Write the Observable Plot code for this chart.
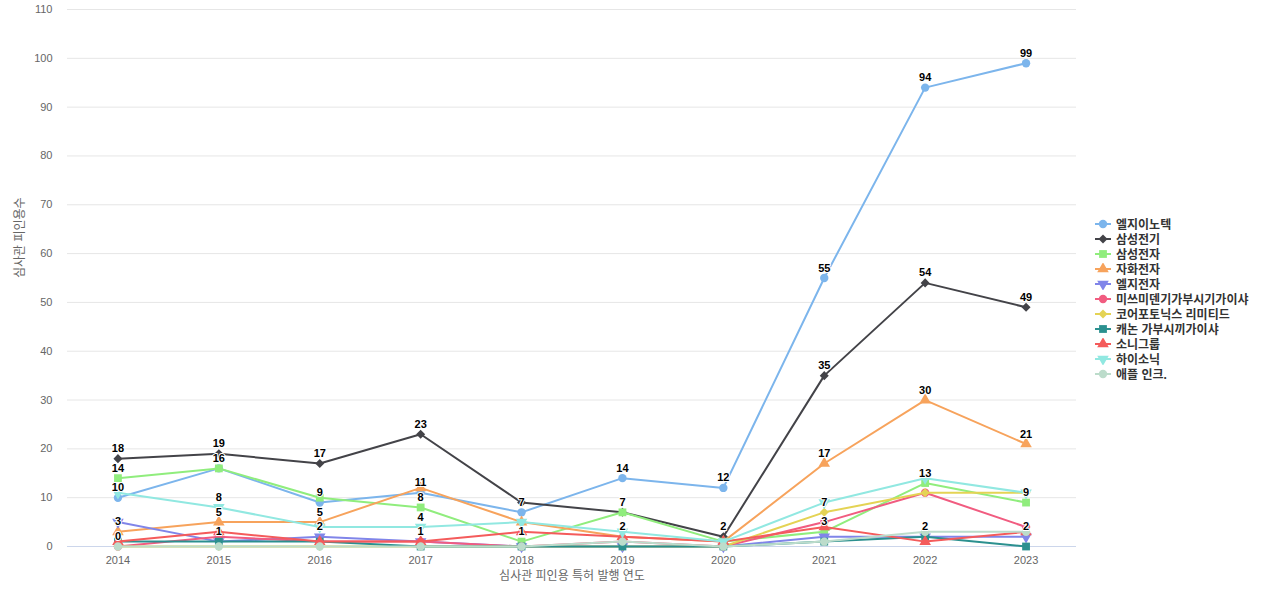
<!DOCTYPE html>
<html><head><meta charset="utf-8">
<script src="https://cdn.jsdelivr.net/npm/d3@7"></script>
<script src="https://cdn.jsdelivr.net/npm/@observablehq/plot@0.6"></script>
<style>
body{margin:0;background:#fff;font-family:"Liberation Sans","Noto Sans CJK KR",sans-serif;}
#wrap{position:relative;width:1280px;height:600px;overflow:hidden;}
#legend{position:absolute;left:1095px;top:216px;font-size:12px;font-weight:bold;color:#333;}
.item{display:flex;align-items:center;height:15px;white-space:nowrap;}
.item svg{margin-right:5px;}
</style></head><body><div id="wrap"><div id="legend"></div></div>
<script>
// ---- data ----
const years = [2014, 2015, 2016, 2017, 2018, 2019, 2020, 2021, 2022, 2023];
const seriesNames = ["엘지이노텍", "삼성전기", "삼성전자", "자화전자", "엘지전자", "미쓰미덴기가부시기가이샤", "코어포토닉스 리미티드", "캐논 가부시끼가이샤", "소니그룹", "하이소닉", "애플 인크."];
const lgInnotek   = [10, 16, 9, 11, 7, 14, 12, 55, 94, 99];
const samsungEM   = [18, 19, 17, 23, 9, 7, 2, 35, 54, 49];
const samsungElec = [14, 16, 10, 8, 1, 7, 1, 3, 13, 9];
const jahwa       = [3, 5, 5, 12, 5, 2, 1, 17, 30, 21];
const lgElec      = [5, 1, 2, 1, 0, 0, 0, 2, 2, 2];
const mitsumi     = [0, 2, 1, 1, 0, 1, 0, 5, 11, 4];
const corephotonics = [0, 0, 0, 0, 0, 0, 0, 7, 11, 11];
const canon       = [1, 1, 1, 0, 0, 0, 0, 1, 2, 0];
const sony        = [1, 3, 1, 1, 3, 2, 1, 4, 1, 3];
const hysonic     = [11, 8, 4, 4, 5, 3, 1, 9, 14, 11];
const apple       = [0, 0, 0, 0, 0, 1, 0, 1, 3, 3];
const seriesValues = [lgInnotek, samsungEM, samsungElec, jahwa, lgElec, mitsumi, corephotonics, canon, sony, hysonic, apple];
const yTicks = [0, 10, 20, 30, 40, 50, 60, 70, 80, 90, 100, 110];

// ---- styles ----
const colors = ["#7cb5ec", "#434348", "#90ed7d", "#f7a35c", "#8085e9", "#f15c80", "#e4d354", "#2b908f", "#f45b5b", "#91e8e1", "#bcdccb"];
const triangleDown = {
  draw(ctx, size) {
    const y = -Math.sqrt(size / (Math.sqrt(3) * 3));
    ctx.moveTo(0, -y * 2);
    ctx.lineTo(-Math.sqrt(3) * y, y);
    ctx.lineTo(Math.sqrt(3) * y, y);
    ctx.closePath();
  }
};
const diamond = {
  draw(ctx, size) {
    const h = Math.sqrt(size / 2);
    ctx.moveTo(0, -h);
    ctx.lineTo(h, 0);
    ctx.lineTo(0, h);
    ctx.lineTo(-h, 0);
    ctx.closePath();
  }
};
const symbolCycle = [d3.symbolCircle, diamond, d3.symbolSquare, d3.symbolTriangle, triangleDown];
const symbolSize = [4.2, 3.6, 4.4, 4.3, 4.3];

const rows = [];
seriesNames.forEach((name, i) => {
  seriesValues[i].forEach((v, j) => rows.push({series: name, si: i, year: years[j], value: v}));
});

// data label collision (greedy in series order)
const pxPerUnit = 537 / 110;
const labels = [];
years.forEach(yr => {
  const shown = [];
  rows.filter(r => r.year === yr).sort((a, b) => a.si - b.si).forEach(r => {
    if (shown.every(s => Math.abs(s.value - r.value) * pxPerUnit >= 12)) { shown.push(r); labels.push(r); }
  });
});

const font = '"Liberation Sans","Noto Sans CJK KR",sans-serif';
const marks = [
  Plot.ruleY(yTicks.filter(t => t > 0), {stroke: "#e6e6e6", strokeWidth: 1}),
  Plot.ruleY([0], {stroke: "#ccd6eb", strokeWidth: 1}),
  Plot.axisY({ticks: yTicks, tickSize: 0, tickPadding: 15, fill: "#666", fontSize: 11, label: null}),
  Plot.axisX({tickSize: 0, tickPadding: 10, fill: "#666", fontSize: 11, label: null, tickFormat: d => String(d)}),
  Plot.text(["심사관 피인용 특허 발행 연도"], {frameAnchor: "bottom", dy: 33, fill: "#666", fontSize: 12}),
  Plot.text(["심사관 피인용수"], {frameAnchor: "left", dx: -47, rotate: -90, fill: "#666", fontSize: 12})
];
seriesNames.forEach((name, i) => {
  const data = rows.filter(r => r.si === i);
  marks.push(Plot.line(data, {x: "year", y: "value", stroke: colors[i], strokeWidth: 2}));
  marks.push(Plot.dot(data, {x: "year", y: "value", fill: colors[i], stroke: "none", r: symbolSize[i % 5], symbol: symbolCycle[i % 5]}));
});
marks.push(Plot.text(labels, {x: "year", y: "value", text: d => String(d.value), dy: -10, fontSize: 11, fontWeight: "bold", fill: "#000", stroke: "#fff", strokeWidth: 2}));

const chart = Plot.plot({
  width: 1280, height: 600,
  marginLeft: 67, marginRight: 204, marginTop: 9, marginBottom: 54,
  style: {fontFamily: font, background: "transparent", overflow: "visible"},
  x: {type: "point", domain: years, padding: 0.5, round: false, axis: null},
  y: {domain: [0, 110], axis: null},
  marks
});
document.getElementById("wrap").prepend(chart);

// legend
const legend = document.getElementById("legend");
seriesNames.forEach((name, i) => {
  const item = document.createElement("div");
  item.className = "item";
  const sym = d3.symbol(symbolCycle[i % 5], Math.PI * symbolSize[i % 5] ** 2)();
  item.innerHTML = `<svg width="16" height="12"><line x1="0" x2="16" y1="6" y2="6" stroke="${colors[i]}" stroke-width="2"/><path d="${sym}" transform="translate(8,6)" fill="${colors[i]}"/></svg><span>${name}</span>`;
  legend.appendChild(item);
});
</script></body></html>
